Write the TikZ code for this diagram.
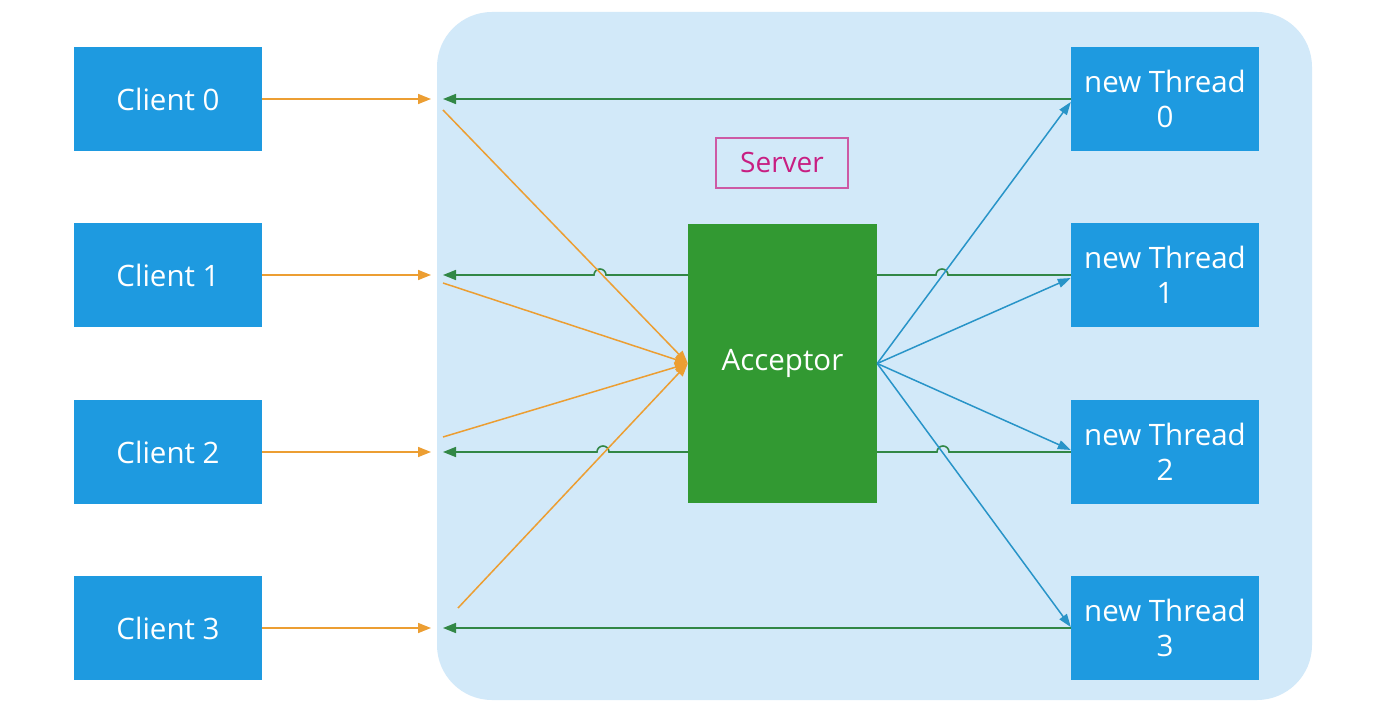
\documentclass[tikz,border=0pt]{standalone}
\usepackage{fontspec}
\setmainfont{Open Sans}
\usetikzlibrary{arrows.meta}
\definecolor{boxblue}{RGB}{30,154,224}
\definecolor{serverbg}{RGB}{210,233,249}
\definecolor{accgreen}{RGB}{50,153,50}
\definecolor{orangeln}{RGB}{236,158,50}
\definecolor{greenln}{RGB}{50,135,70}
\definecolor{blueln}{RGB}{40,148,200}
\definecolor{pinkbd}{RGB}{205,90,165}
\definecolor{pinktx}{RGB}{200,30,130}
\tikzset{
  cbox/.style={fill=boxblue, text=white, minimum width=188pt, minimum height=104pt, inner sep=0pt, align=center, font=\fontsize{29.5}{35}\selectfont},
  accbox/.style={fill=accgreen, text=white, minimum width=189pt, minimum height=279pt, inner sep=0pt, font=\fontsize{29.5}{35}\selectfont},
  srvlabel/.style={draw=pinkbd, line width=1.3pt, text=pinktx, minimum width=132pt, minimum height=50pt, inner sep=0pt, font=\fontsize{28}{32}\selectfont},
  oarrow/.style={draw=orangeln, line width=1.5pt, -{Triangle[length=13pt,width=10pt]}},
  garrow/.style={draw=greenln, line width=1.6pt, -{Triangle[length=13pt,width=10pt]}},
  gline/.style={draw=greenln, line width=1.6pt},
  barrow/.style={draw=blueln, line width=1.5pt, -{Triangle[length=13pt,width=9pt]}},
}
\begin{document}
\begin{tikzpicture}[x=1pt,y=1pt]
\useasboundingbox (0,0) rectangle (1390,724);
\fill[white] (0,0) rectangle (1390,724);
% server area
\node[fill=serverbg, rounded corners=55pt, minimum width=875pt, minimum height=688pt, inner sep=0pt] (server) at (874.5,368) {};
% clients
\node[cbox] (c0) at (168,625) {Client 0};
\node[cbox] (c1) at (168,449) {Client 1};
\node[cbox] (c2) at (168,272) {Client 2};
\node[cbox] (c3) at (168,96) {Client 3};
% threads
\node[cbox] (t0) at (1165,625) {new Thread\\0};
\node[cbox] (t1) at (1165,449) {new Thread\\1};
\node[cbox] (t2) at (1165,272) {new Thread\\2};
\node[cbox] (t3) at (1165,96) {new Thread\\3};
% acceptor
\node[accbox] (acc) at (782.5,360.5) {Acceptor};
\node[srvlabel] (srv) at (782,561) {Server};
% free ends
\coordinate (in0) at (431,625);
\coordinate (in1) at (431,449);
\coordinate (in2) at (431,272);
\coordinate (in3) at (431,96);
\coordinate (out0) at (443,625);
\coordinate (out1) at (443,449);
\coordinate (out2) at (443,272);
\coordinate (out3) at (443,96);
\coordinate (os0) at (443,614);
\coordinate (os1) at (443,441);
\coordinate (os2) at (443,287);
\coordinate (os3) at (458,116);
% client -> server
\draw[oarrow] (c0.east) -- (in0);
\draw[oarrow] (c1.east) -- (in1);
\draw[oarrow] (c2.east) -- (in2);
\draw[oarrow] (c3.east) -- (in3);
% green returns
\draw[garrow] (t0.west) -- (out0);
\draw[garrow] (t3.west) -- (out3);
\draw[gline] (t1.west) -- (948,449) arc[start angle=0,end angle=180,radius=6pt] -- (acc.east |- t1.west);
\draw[gline] (t2.west) -- (949,272) arc[start angle=0,end angle=180,radius=6pt] -- (acc.east |- t2.west);
\draw[garrow] (acc.west |- t1.west) -- (606,449) arc[start angle=0,end angle=180,radius=6pt] -- (out1);
\draw[garrow] (acc.west |- t2.west) -- (609,272) arc[start angle=0,end angle=180,radius=6pt] -- (out2);
% orange into acceptor
\draw[oarrow] (os0) -- (acc.west);
\draw[oarrow] (os1) -- (acc.west);
\draw[oarrow] (os2) -- (acc.west);
\draw[oarrow] (os3) -- (acc.west);
% blue to threads
\draw[barrow] (acc.east) -- (t0.west |- 0,622);
\draw[barrow] (acc.east) -- (t1.west |- 0,446);
\draw[barrow] (acc.east) -- (t2.west |- 0,274);
\draw[barrow] (acc.east) -- (t3.west |- 0,97);
\end{tikzpicture}
\end{document}
